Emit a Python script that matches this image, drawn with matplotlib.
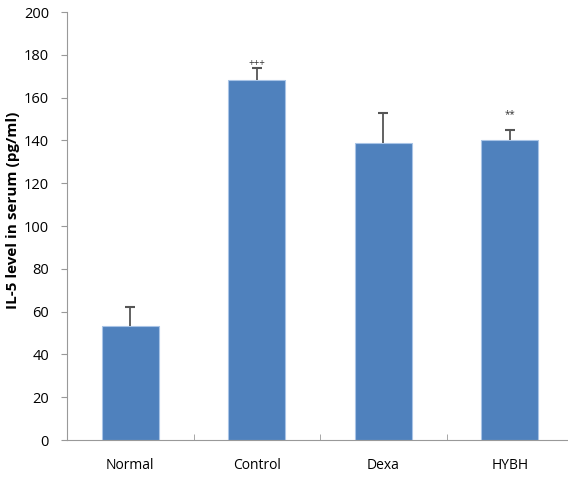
import matplotlib.pyplot as plt

groups = ['Normal', 'Control', 'Dexa', 'HYBH']
il5 = [53.5, 168.0, 139.0, 140.0]
err = [8.5, 6.0, 14.0, 5.0]
marks = ['', '+++', '', '**']
mark_y = [0, 176, 0, 152]
yticks = list(range(0, 201, 20))

plt.rcParams['font.family'] = ['Open Sans', 'DejaVu Sans']

fig = plt.figure(figsize=(5.68, 4.8), dpi=100)
ax = fig.add_axes([67 / 568, 40 / 480, 506 / 568, 428 / 480])

x = list(range(len(groups)))
ax.bar(x, il5, width=0.45, color='#4f81bd', edgecolor='#a9c4e6', linewidth=0.8, zorder=2)
tops = [v + e for v, e in zip(il5, err)]
ax.vlines(x, il5, tops, color='#555555', linewidth=1.3, zorder=3)
ax.plot(x, tops, linestyle='none', marker='_', markersize=7, markeredgewidth=1.5,
        color='#555555', zorder=3)
for xi, m, my in zip(x, marks, mark_y):
    if m:
        ax.text(xi, my, m, ha='center', va='center', fontsize=7, color='#333333')

ax.set_xlim(-0.5, len(groups) - 0.5)
ax.set_ylim(0, 200)
ax.set_yticks(yticks)
ax.set_xticks(x)
ax.set_xticklabels(groups)
ax.set_xticks([0.5, 1.5, 2.5], minor=True)
ax.tick_params(axis='x', which='major', length=0, pad=13, labelsize=10)
ax.tick_params(axis='x', which='minor', length=4, direction='in', color='#999999')
ax.tick_params(axis='y', length=4, direction='out', color='#999999', labelsize=10.5, pad=9)
ax.set_ylabel('IL-5 level in serum (pg/ml)', fontsize=11, fontweight='bold')
ax.yaxis.set_label_coords(-0.093, 0.537)

for s in ['top', 'right']:
    ax.spines[s].set_visible(False)
for s in ['left', 'bottom']:
    ax.spines[s].set_color('#999999')

fig.savefig('out.png', dpi=100)
